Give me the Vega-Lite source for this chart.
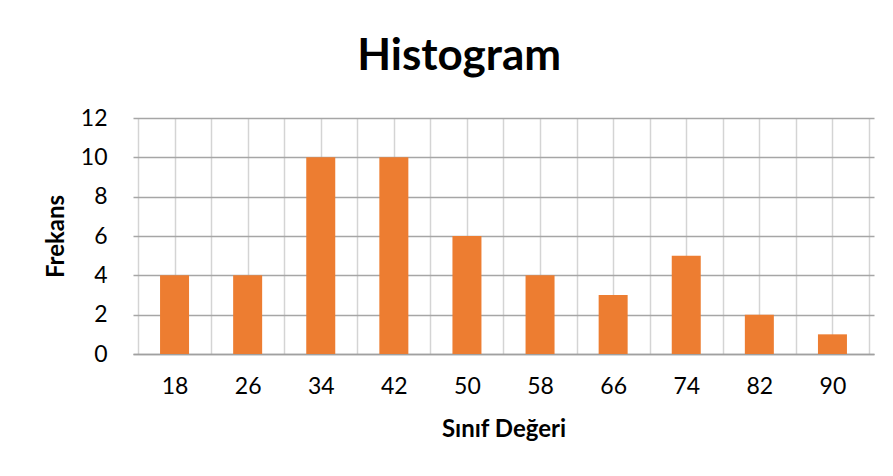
{
  "$schema": "https://vega.github.io/schema/vega-lite/v6.json",
  "width": 741,
  "height": 236,
  "autosize": "none",
  "padding": {"left": 133, "top": 118, "right": 19, "bottom": 122},
  "background": "white",
  "title": {
    "text": "Histogram",
    "font": "Lato",
    "fontSize": 44,
    "fontWeight": "bold",
    "color": "#000000",
    "anchor": "middle",
    "frame": "bounds",
    "offset": 28
  },
  "data": {
    "values": [
      {"sinif": 18, "frekans": 4},
      {"sinif": 26, "frekans": 4},
      {"sinif": 34, "frekans": 10},
      {"sinif": 42, "frekans": 10},
      {"sinif": 50, "frekans": 6},
      {"sinif": 58, "frekans": 4},
      {"sinif": 66, "frekans": 3},
      {"sinif": 74, "frekans": 5},
      {"sinif": 82, "frekans": 2},
      {"sinif": 90, "frekans": 1}
    ]
  },
  "mark": {"type": "bar", "color": "#ED7D31", "size": 29},
  "encoding": {
    "x": {
      "field": "sinif",
      "type": "quantitative",
      "scale": {"domain": [14, 94], "nice": false, "zero": false},
      "axis": {
        "title": "Sınıf Değeri",
        "values": [14, 18, 22, 26, 30, 34, 38, 42, 46, 50, 54, 58, 62, 66, 70, 74, 78, 82, 86, 90, 94],
        "labelExpr": "(datum.value - 18) % 8 == 0 ? datum.label : ''",
        "ticks": false,
        "domain": true,
        "domainColor": "#a0a0a0",
        "domainWidth": 1.5,
        "gridColor": "#d4d4d4",
        "gridWidth": 1.5,
        "labelFont": "Lato",
        "labelFontSize": 23,
        "labelColor": "#000000",
        "labelPadding": 21,
        "titleFont": "Lato",
        "titleFontSize": 24,
        "titleFontWeight": "bold",
        "titleColor": "#000000",
        "titlePadding": 19
      }
    },
    "y": {
      "field": "frekans",
      "type": "quantitative",
      "scale": {"domain": [0, 12], "nice": false},
      "axis": {
        "title": "Frekans",
        "values": [0, 2, 4, 6, 8, 10, 12],
        "ticks": false,
        "domain": false,
        "gridColor": "#a6a6a6",
        "gridWidth": 1.5,
        "labelFont": "Lato",
        "labelFontSize": 23,
        "labelColor": "#000000",
        "labelPadding": 26,
        "titleFont": "Lato",
        "titleFontSize": 24,
        "titleFontWeight": "bold",
        "titleColor": "#000000",
        "titlePadding": 12
      }
    }
  },
  "config": {
    "view": {"stroke": null}
  }
}
